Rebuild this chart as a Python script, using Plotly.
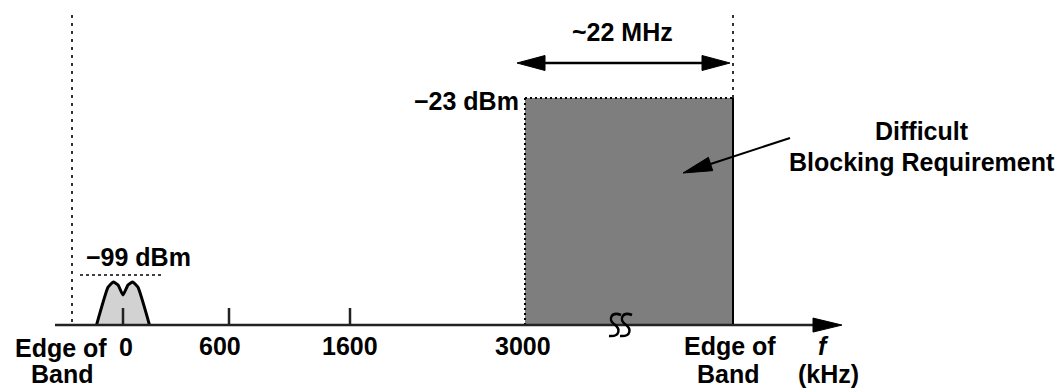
import plotly.graph_objects as go

# ---------------- data ----------------
tick_labels = ["0", "600", "1600", "3000"]
tick_khz = [0, 600, 1600, 3000]
signal_level_dbm = -99
blocker_level_dbm = -23
floor_dbm = -120.5
signal_label = "\u221299 dBm"
blocker_label = "\u221223 dBm"
span_label = "~22 MHz"
note_lines = ["Difficult", "Blocking Requirement"]
edge_label = ["Edge of", "Band"]
unit_lines = ["f", "(kHz)"]
sig_offset_khz = [-150, -85, -55, -28, 0, 28, 55, 85, 150]
sig_shape_dbm = [-120.5, -104.3, -102.0, -103.3, -107.6, -103.3, -102.0, -104.3, -120.5]

# ---------------- layout (schematic, broken frequency axis) ----------------
W, H = 1064, 389
Y_TOP, Y_BOT = 19.08, -147.95
tick_x = [123, 229, 350, 525]          # schematic positions of the tick frequencies
edge_l_x, edge_r_x = 72, 733
axis_x0, axis_tip = 55, 842
FONT = "Liberation Sans, Arial, sans-serif"


def Y(p):
    """pixel row -> y-axis (dBm) units, for decorations"""
    return Y_TOP - p / H * (Y_TOP - Y_BOT)


def P(y):
    return (Y_TOP - y) / (Y_TOP - Y_BOT) * H


def sig_x(f):
    return tick_x[0] + f * (tick_x[1] - tick_x[0]) / (tick_khz[1] - tick_khz[0])


shapes = []


def line(x0, y0, x1, y1, color="black", width=2, dash=None):
    ln = dict(color=color, width=width)
    if dash:
        ln["dash"] = dash
    shapes.append(dict(type="line", xref="x", yref="y", x0=x0, y0=y0, x1=x1, y1=y1, line=ln))


def head(tx, tp, fx, fp, L, hw, color="black"):
    dx, dp = tx - fx, tp - fp
    n = (dx * dx + dp * dp) ** 0.5
    ux, up = dx / n, dp / n
    bx, bp = tx - L * ux, tp - L * up
    px, pp = -up * hw, ux * hw
    pts = [(tx, tp), (bx + px, bp + pp), (bx - px, bp - pp)]
    path = "M " + " L ".join(f"{x:.2f},{Y(p):.4f}" for x, p in pts) + " Z"
    shapes.append(dict(type="path", xref="x", yref="y", path=path,
                       fillcolor=color, line=dict(color=color, width=1)))
    return bx, bp


# blocker block
shapes.append(dict(type="rect", xref="x", yref="y", x0=tick_x[3], x1=edge_r_x,
                   y0=floor_dbm, y1=blocker_level_dbm, fillcolor="#7e7e7e",
                   line=dict(width=0)))
line(tick_x[3], blocker_level_dbm, edge_r_x, blocker_level_dbm, width=2, dash="2px,3px")
line(tick_x[3], floor_dbm, tick_x[3], blocker_level_dbm, width=2, dash="2px,3px")
line(edge_r_x, floor_dbm, edge_r_x, blocker_level_dbm, width=2)

# band edge dashed lines
line(edge_l_x, Y(15), edge_l_x, floor_dbm, width=1.6, dash="3px,5px")
line(edge_r_x, Y(15), edge_r_x, blocker_level_dbm, width=1.6, dash="3px,5px")

# -99 dBm reference dotted line
line(80, signal_level_dbm, 163, signal_level_dbm, width=1.6, dash="3px,3px")

# frequency axis with arrow
line(axis_x0, floor_dbm, 815, floor_dbm, color="#222", width=2.5)
head(axis_tip, P(floor_dbm), axis_x0, P(floor_dbm), 29, 7)

# ticks
for tx in tick_x[:3]:
    line(tx, floor_dbm, tx, Y(308), color="#222", width=2.5)

# 22 MHz span double arrow
bx1, _ = head(517, 63, edge_r_x, 63, 28, 7.5)
bx2, _ = head(730, 63, 517, 63, 28, 7.5)
line(bx1, Y(63), bx2, Y(63), width=2.5)

# pointer arrow to block
bx, bp = head(683, 173, 790, 138, 29, 7)
line(790, Y(138), bx, Y(bp), width=2)

# axis break squiggle
for ox in (608, 619):
    pts = [(ox + 13, 315), (ox + 3, 311), (ox, 320), (ox + 6, 324),
           (ox + 13, 329), (ox + 12, 337), (ox + 1, 336)]
    path = (f"M {pts[0][0]},{Y(pts[0][1]):.4f} "
            f"C {pts[1][0]},{Y(pts[1][1]):.4f} {pts[2][0]},{Y(pts[2][1]):.4f} {pts[3][0]},{Y(pts[3][1]):.4f} "
            f"C {pts[4][0]},{Y(pts[4][1]):.4f} {pts[5][0]},{Y(pts[5][1]):.4f} {pts[6][0]},{Y(pts[6][1]):.4f}")
    shapes.append(dict(type="path", xref="x", yref="y", path=path,
                       line=dict(color="black", width=2.5)))

fig = go.Figure()
fig.add_trace(go.Scatter(
    x=[sig_x(f) for f in sig_offset_khz], y=sig_shape_dbm,
    mode="lines", fill="toself", fillcolor="#d2d2d2",
    line=dict(color="black", width=3, shape="spline", smoothing=0.4),
    hoverinfo="skip", showlegend=False))

annotations = []


def text(s, x, p, size=25, xanchor="center", style="normal"):
    annotations.append(dict(x=x, y=Y(p), xref="x", yref="y", text=s, showarrow=False,
                            xanchor=xanchor, yanchor="middle", borderpad=0,
                            font=dict(family=FONT, size=size, color="black",
                                      weight="bold", style=style)))


text(signal_label, 138, 257)
text(blocker_label, 520, 101, xanchor="right")
text(span_label, 622, 32)
text(note_lines[0], 922, 131)
text(note_lines[1], 922, 162)
text(edge_label[0], 61, 348)
text(edge_label[1], 62, 374)
text(tick_labels[0], 126, 347)
text(tick_labels[1], 220, 346)
text(tick_labels[2], 350, 346)
text(tick_labels[3], 523, 346)
text(edge_label[0], 730, 346)
text(edge_label[1], 728, 374)
text(unit_lines[0], 823, 346, style="italic")
text(unit_lines[1], 828, 374)

fig.update_layout(
    width=W, height=H, autosize=False,
    margin=dict(l=0, r=0, t=0, b=0, pad=0),
    paper_bgcolor="white", plot_bgcolor="white",
    xaxis=dict(range=[0, W], visible=False, fixedrange=True),
    yaxis=dict(range=[Y_BOT, Y_TOP], visible=False, fixedrange=True),
    shapes=shapes, annotations=annotations, showlegend=False,
)

fig.write_html("out.html", config={"displayModeBar": False},
               post_script="document.body.style.margin='0';document.body.style.overflow='hidden';")
